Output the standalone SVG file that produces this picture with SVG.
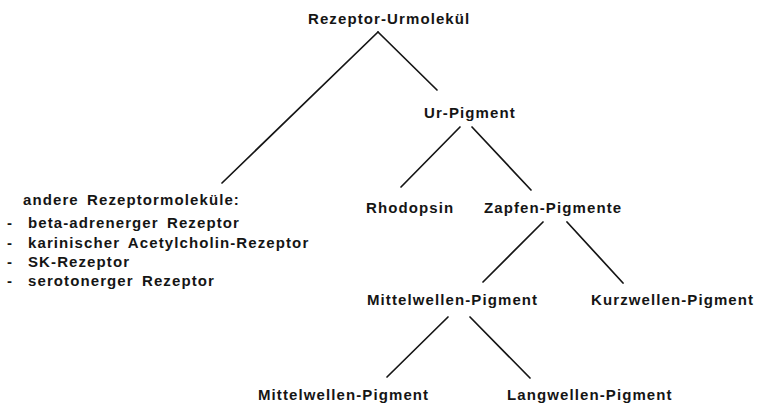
<svg xmlns="http://www.w3.org/2000/svg" width="758" height="405" viewBox="0 0 758 405">
<style>
text{font-family:"Liberation Sans",Arial,sans-serif;font-weight:bold;font-size:15px;fill:#151515;letter-spacing:1.1px;word-spacing:3px}
.c line{stroke:#151515;stroke-width:1.7;stroke-linecap:round}
</style>
<rect width="758" height="405" fill="#fff"/>
<g class="c" id="connectors">
<line x1="378" y1="32" x2="222" y2="183"/>
<line x1="378" y1="32" x2="437" y2="90"/>
<line x1="460" y1="127" x2="401" y2="187"/>
<line x1="472" y1="127" x2="531" y2="190"/>
<line x1="543" y1="222" x2="483" y2="282"/>
<line x1="567" y1="222" x2="623" y2="283"/>
<line x1="448" y1="317" x2="387" y2="377"/>
<line x1="470" y1="317" x2="530" y2="378"/>
</g>
<g id="root"><text x="308" y="24">Rezeptor-Urmolekül</text></g>
<g id="ur"><text x="424" y="118">Ur-Pigment</text></g>
<g id="andere">
<text x="23" y="205">andere Rezeptormoleküle:</text>
<text x="7" y="228">-</text><text x="28" y="228">beta-adrenerger Rezeptor</text>
<text x="7" y="248">-</text><text x="28" y="248">karinischer Acetylcholin-Rezeptor</text>
<text x="7" y="267">-</text><text x="28" y="267">SK-Rezeptor</text>
<text x="7" y="286">-</text><text x="28" y="286">serotonerger Rezeptor</text>
</g>
<g id="rhodopsin"><text x="366" y="213">Rhodopsin</text></g>
<g id="zapfen"><text x="484" y="213">Zapfen-Pigmente</text></g>
<g id="mittel1"><text x="367" y="305">Mittelwellen-Pigment</text></g>
<g id="kurz"><text x="591" y="305">Kurzwellen-Pigment</text></g>
<g id="mittel2"><text x="258" y="400">Mittelwellen-Pigment</text></g>
<g id="lang"><text x="507" y="400">Langwellen-Pigment</text></g>
</svg>
